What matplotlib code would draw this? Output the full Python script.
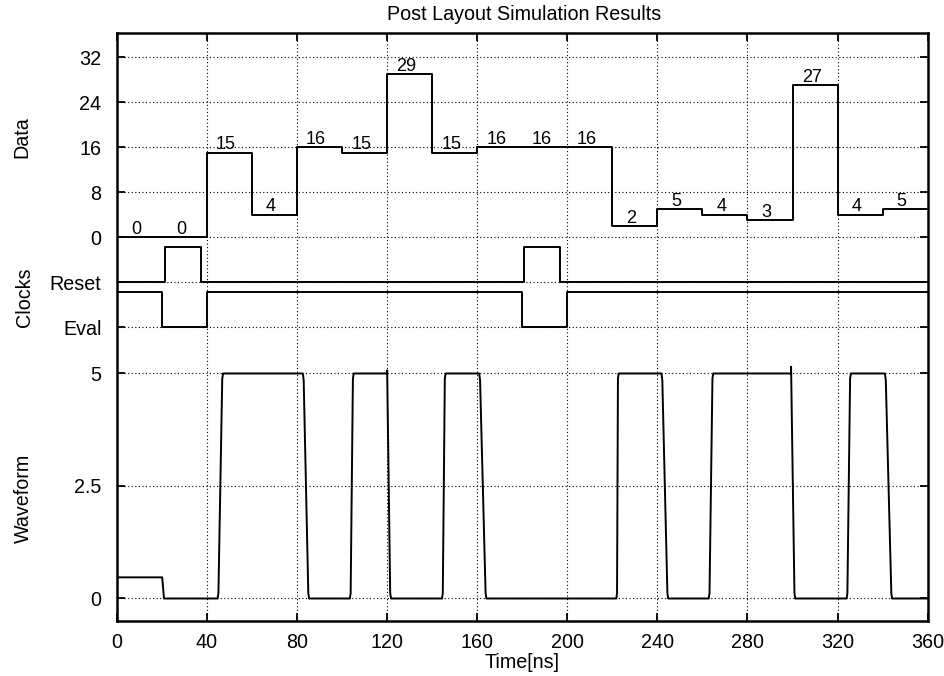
import matplotlib
matplotlib.use('Agg')
import matplotlib.pyplot as plt

# ---------------- data ----------------
seg_start = [0, 20, 40, 60, 80, 100, 120, 140, 160, 180, 200, 220, 240, 260, 280, 300, 320, 340]
data_values = [0, 0, 15, 4, 16, 15, 29, 15, 16, 16, 16, 2, 5, 4, 3, 27, 4, 5]
end_time = 360

reset_t = [0, 21.5, 21.5, 37.5, 37.5, 181, 181, 197, 197, 360]
reset_v = [0, 0, 1, 1, 0, 0, 1, 1, 0, 0]
eval_t = [0, 20, 20, 40, 40, 180, 180, 200, 200, 360]
eval_v = [1, 1, 0, 0, 1, 1, 0, 0, 1, 1]

wave_t = [0, 20.2, 21.0,
          44.8, 45.15, 46.85, 47.2,
          82.6, 83.0, 85.05, 85.4,
          103.5, 103.85, 104.85, 105.2,
          120.0, 120.05, 121.4, 121.8,
          144.4, 144.75, 145.65, 146.0,
          160.9, 161.3, 163.75, 164.1,
          221.8, 222.1, 222.5, 222.8,
          241.8, 242.2, 244.45, 244.8,
          262.8, 263.15, 264.45, 264.8,
          299.3, 299.35, 300.85, 301.2,
          324.0, 324.35, 325.55, 325.9,
          341.0, 341.4, 343.85, 344.2,
          360]
wave_v = [0.47, 0.47, 0.0,
          0, 0.12, 4.88, 5,
          5, 4.85, 0.12, 0,
          0, 0.12, 4.88, 5,
          5, 5.07, 0.12, 0,
          0, 0.12, 4.88, 5,
          5, 4.85, 0.12, 0,
          0, 0.12, 4.88, 5,
          5, 4.85, 0.12, 0,
          0, 0.12, 4.88, 5,
          5, 5.15, 0.12, 0,
          0, 0.12, 4.88, 5,
          5, 4.85, 0.12, 0,
          0]

x_ticks = [0, 40, 80, 120, 160, 200, 240, 280, 320, 360]
data_ticks = [32, 24, 16, 8, 0]
wave_ticks = [5, 2.5, 0]
clock_labels = ['Reset', 'Eval']

# ---------------- layout (virtual y axis) ----------------
RESET_BASE, EVAL_BASE, CLK_AMP = -8.0, -16.0, 6.3
WAVE_BASE, WAVE_SCALE = -64.2, 8.0

def wave_y(v):
    return WAVE_BASE + WAVE_SCALE * v

plt.rcParams['font.family'] = ['Liberation Sans', 'DejaVu Sans']
FS = 14.2
fig = plt.figure(figsize=(9.45, 6.76), dpi=100)
W, H = 945, 676
ax = fig.add_axes([116.7 / W, 1 - 621 / H, (927.7 - 116.7) / W, (621 - 33.3) / H])

lw = 1.4
# data step trace
ax.step(seg_start + [end_time], data_values + [data_values[-1]], where='post', color='black', lw=lw)
for t0, v in zip(seg_start, data_values):
    ax.annotate(str(v), (t0 + 8.5, v), xytext=(0, 2.5), textcoords='offset points',
                ha='center', va='baseline', fontsize=13)

# clocks
ax.plot(reset_t, [RESET_BASE + CLK_AMP * r for r in reset_v], color='black', lw=lw)
ax.plot(eval_t, [EVAL_BASE + CLK_AMP * e for e in eval_v], color='black', lw=lw)

# waveform
ax.plot(wave_t, [wave_y(v) for v in wave_v], color='black', lw=lw)

ax.set_xlim(0, 360)
ax.set_ylim(-68.2, 36.27)
ax.set_xticks(x_ticks)
ax.set_xticklabels([str(t) for t in x_ticks])
yt = data_ticks + [RESET_BASE, EVAL_BASE] + [wave_y(v) for v in wave_ticks]
ylab = [str(t) for t in data_ticks] + clock_labels + ['5', '2.5', '0']
ax.set_yticks(yt)
ax.set_yticklabels(ylab)

ax.grid(True, color='black', linestyle=(0, (1, 2.2)), linewidth=0.8)
ax.tick_params(direction='in', length=6, width=1.3, top=True, right=True,
               labelsize=FS, colors='black')
ax.tick_params(axis='y', pad=11)
ax.tick_params(axis='x', pad=9)
for s in ax.spines.values():
    s.set_linewidth(1.8)

fig.text(524 / W, 1 - 15 / H, 'Post Layout Simulation Results', ha='center', va='center', fontsize=FS)
fig.text(522 / W, 1 - 663 / H, 'Time[ns]', ha='center', va='center', fontsize=FS)
fig.text(22 / W, 1 - 137 / H, 'Data', rotation=90, ha='center', va='center', fontsize=FS)
fig.text(25 / W, 1 - 297 / H, 'Clocks', rotation=90, ha='center', va='center', fontsize=FS)
fig.text(23 / W, 1 - 498 / H, 'Waveform', rotation=90, ha='center', va='center', fontsize=FS)

fig.savefig('out.png', dpi=100)
